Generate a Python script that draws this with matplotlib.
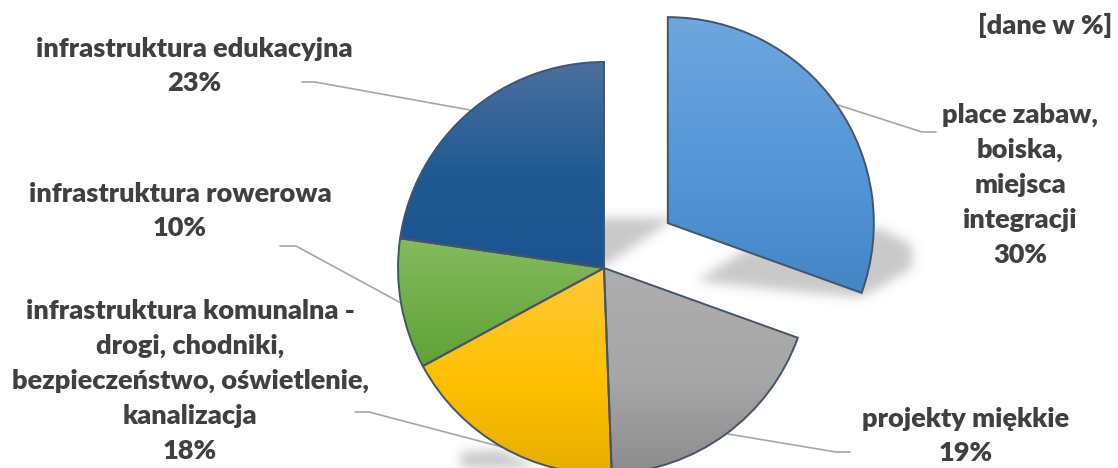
from matplotlib import pyplot as plt
from matplotlib.colors import to_rgb
from matplotlib.path import Path
import numpy as np

# values
labels = ['place zabaw,\nboiska,\nmiejsca\nintegracji\n30%',
          'projekty miękkie\n19%',
          'infrastruktura komunalna -\ndrogi, chodniki,\nbezpieczeństwo, oświetlenie,\nkanalizacja\n18%',
          'infrastruktura rowerowa\n10%',
          'infrastruktura edukacyjna\n23%']
values = [30.5, 18.9, 17.7, 10.2, 22.7]

W, H = 1118, 468

# colours, top / middle / bottom of each slice
top_colors = ['#6fa6de', '#aeaeae', '#ffc839', '#85bb5e', '#4a6f9e']
mid_colors = ['#5496d8', '#a6a6a6', '#ffc000', '#70ad47', '#1f5a92']
bottom_colors = ['#4485c4', '#8c8c8c', '#e6ae00', '#5fa334', '#1b5590']

# layout, in pixels from the top left of the image
explode = [78, 0, 0, 0, 0]
label_xy = [(1020, 185), (966, 436), (190, 381), (180, 211), (194, 66)]
leader_lines = [[(838, 105), (922, 132), (936, 132)],
                [(728, 434), (836, 452), (850, 452)],
                [(502, 447), (369, 412), (355, 412)],
                [(401, 303), (296, 246), (280, 246)],
                [(470, 110), (315, 82), (302, 82)]]
shadow_polys = [[(585, 218), (675, 218), (603, 267), (585, 267)],
                [(697, 281), (745, 250), (880, 228), (912, 245), (912, 268),
                 (880, 287), (860, 297), (790, 291)],
                [(461, 452), (500, 450), (540, 468), (461, 475)]]


def flip(pts):
    return [(x, H - y) for x, y in pts]


fig = plt.figure(figsize=(W / 100, H / 100), dpi=100)
ax = fig.add_axes([0, 0, 1, 1])

# soft shadow, blurred by hand
xx, yy = np.meshgrid(np.arange(W) + 0.5, np.arange(H) + 0.5)
grid = np.column_stack([xx.ravel(), yy.ravel()])
shade = np.zeros((H, W))
for poly in shadow_polys:
    shade[Path(poly).contains_points(grid).reshape(H, W)] = 1.0
kernel = np.exp(-np.arange(-15, 16) ** 2 / (2 * 5.5 ** 2))
kernel = kernel / kernel.sum()
shade = np.apply_along_axis(lambda r: np.convolve(r, kernel, mode='same'), 0, shade)
shade = np.apply_along_axis(lambda r: np.convolve(r, kernel, mode='same'), 1, shade)
rgba = np.zeros((H, W, 4))
rgba[..., :3] = 0.5
rgba[..., 3] = shade * 0.42
ax.imshow(rgba, extent=(0, W, 0, H), zorder=1, aspect='auto')

wedges, _ = ax.pie(values, startangle=90, counterclock=False, explode=explode,
                   radius=206, center=(604, H - 268),
                   wedgeprops=dict(linewidth=1.4, edgecolor='#44546a',
                                   facecolor='none', zorder=4))

# vertical gradient clipped to every slice
for w, c1, c2, c3 in zip(wedges, top_colors, mid_colors, bottom_colors):
    bb = w.get_path().get_extents()
    t = np.linspace(0, 1, 256)
    stops = [to_rgb(c) for c in (c1, c2, c3)]
    grad = np.stack([np.interp(t, [0, 0.55, 1], [s[i] for s in stops]) for i in range(3)],
                    axis=1)[:, None, :]
    im = ax.imshow(grad, extent=(bb.x0, bb.x1, bb.y0, bb.y1), aspect='auto', zorder=3)
    im.set_clip_path(w)

for pts in leader_lines:
    xs, ys = zip(*flip(pts))
    ax.plot(xs, ys, color='#a6a6a6', lw=1.2, zorder=2, solid_capstyle='round')

for text, (x, y) in zip(labels, label_xy):
    ax.text(x, H - y, text, ha='center', va='center', family='Lato', weight='heavy',
            fontsize=19.5, color='#404040', linespacing=1.54, zorder=5)
ax.text(1112, H - 25, '[dane w %]', ha='right', va='center', family='Lato', weight='heavy',
        fontsize=19.5, color='#404040', zorder=5)

ax.set_xlim(0, W)
ax.set_ylim(0, H)
ax.set_aspect('auto')
ax.axis('off')
fig.savefig('out.png', dpi=100)
